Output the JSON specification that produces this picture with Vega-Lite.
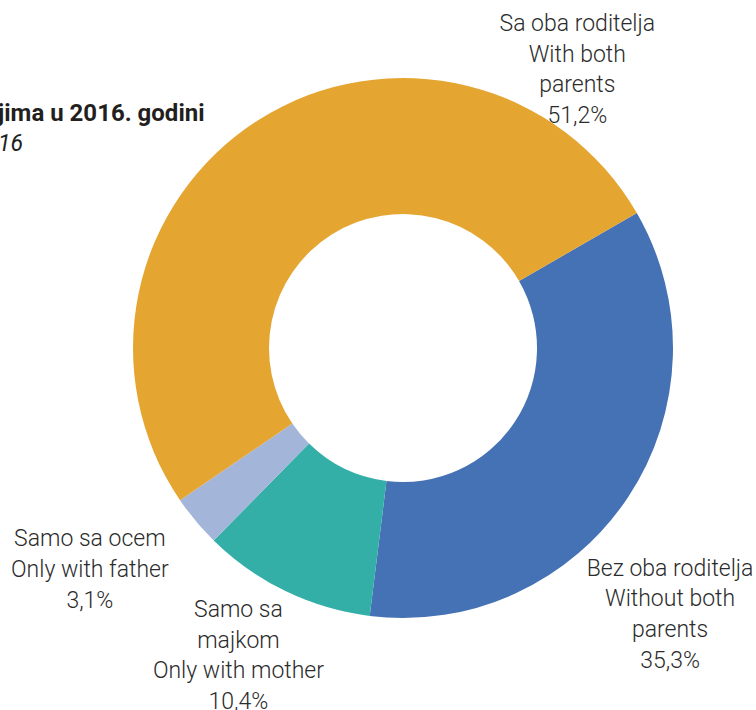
{
  "$schema": "https://vega.github.io/schema/vega-lite/v6.json",
  "width": 706,
  "height": 696,
  "autosize": {"type": "none"},
  "padding": {"left": 50, "top": 0, "right": 0, "bottom": 14},
  "background": "white",
  "title": {
    "text": "jima u 2016. godini",
    "subtitle": "16",
    "anchor": "start",
    "frame": "group",
    "dx": -52,
    "dy": 160,
    "font": "Roboto",
    "fontSize": 24,
    "fontWeight": "bold",
    "color": "#231f20",
    "subtitleFont": "Roboto",
    "subtitleFontSize": 23,
    "subtitleFontStyle": "italic",
    "subtitleFontWeight": "normal",
    "subtitleColor": "#231f20",
    "subtitlePadding": 7
  },
  "data": {
    "values": [
      {"cat": "Bez oba roditelja", "ord": 1, "value": 35.3, "label": "Bez oba roditelja\nWithout both\nparents\n35,3%"},
      {"cat": "Samo sa majkom", "ord": 2, "value": 10.4, "label": "Samo sa\nmajkom\nOnly with mother\n10,4%"},
      {"cat": "Samo sa ocem", "ord": 3, "value": 3.1, "label": "Samo sa ocem\nOnly with father\n3,1%"},
      {"cat": "Sa oba roditelja", "ord": 4, "value": 51.2, "label": "Sa oba roditelja\nWith both\nparents\n51,2%"}
    ]
  },
  "encoding": {
    "theta": {"field": "value", "type": "quantitative", "stack": true, "scale": {"range": [1.0472, 7.3304]}},
    "order": {"field": "ord", "type": "quantitative"}
  },
  "layer": [
    {
      "mark": {"type": "arc", "innerRadius": 134, "outerRadius": 270},
      "encoding": {
        "color": {
          "field": "cat",
          "type": "nominal",
          "scale": {
            "domain": ["Bez oba roditelja", "Samo sa majkom", "Samo sa ocem", "Sa oba roditelja"],
            "range": ["#4571B5", "#33AFA8", "#A4B5DA", "#E5A531"]
          },
          "legend": null
        }
      }
    },
    {
      "mark": {"type": "text", "radius": 300, "dx": 17, "dy": 55, "font": "Roboto", "fontSize": 23, "fontWeight": 300, "lineBreak": "\n", "lineHeight": 30.7, "align": "center", "baseline": "middle", "color": "#2b2b2b"},
      "encoding": {
        "text": {"field": "label", "type": "nominal"},
        "opacity": {"condition": {"test": "datum.cat === 'Bez oba roditelja'", "value": 1}, "value": 0}
      }
    },
    {
      "mark": {"type": "text", "radius": 300, "dx": -34, "dy": -8, "font": "Roboto", "fontSize": 23, "fontWeight": 300, "lineBreak": "\n", "lineHeight": 30.7, "align": "center", "baseline": "middle", "color": "#2b2b2b"},
      "encoding": {
        "text": {"field": "label", "type": "nominal"},
        "opacity": {"condition": {"test": "datum.cat === 'Samo sa majkom'", "value": 1}, "value": 0}
      }
    },
    {
      "mark": {"type": "text", "radius": 300, "dx": -83, "dy": -1, "font": "Roboto", "fontSize": 23, "fontWeight": 300, "lineBreak": "\n", "lineHeight": 30.7, "align": "center", "baseline": "middle", "color": "#2b2b2b"},
      "encoding": {
        "text": {"field": "label", "type": "nominal"},
        "opacity": {"condition": {"test": "datum.cat === 'Samo sa ocem'", "value": 1}, "value": 0}
      }
    },
    {
      "mark": {"type": "text", "radius": 300, "dx": 334, "dy": -70, "font": "Roboto", "fontSize": 23, "fontWeight": 300, "lineBreak": "\n", "lineHeight": 30.7, "align": "center", "baseline": "middle", "color": "#2b2b2b"},
      "encoding": {
        "text": {"field": "label", "type": "nominal"},
        "opacity": {"condition": {"test": "datum.cat === 'Sa oba roditelja'", "value": 1}, "value": 0}
      }
    }
  ]
}
